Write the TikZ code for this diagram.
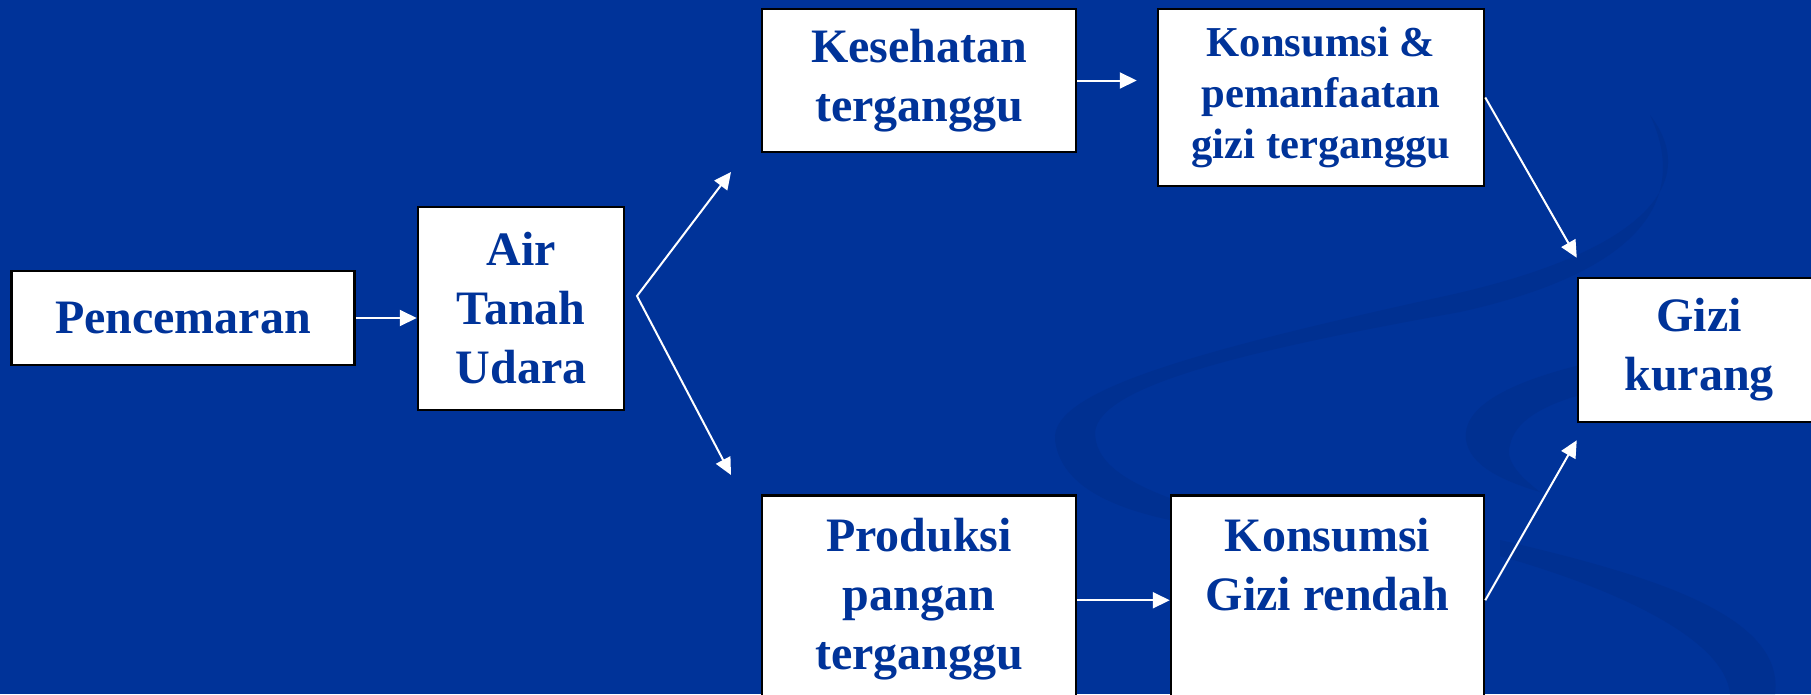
\documentclass[tikz,border=0pt]{standalone}
\usepackage{fontspec}
\setmainfont{Liberation Serif}
\usetikzlibrary{arrows.meta}
\definecolor{bgblue}{HTML}{003399}
\definecolor{swirlblue}{HTML}{003091}
\definecolor{txtblue}{HTML}{003399}
\tikzset{
  box/.style={draw=black, line width=2.5pt, fill=white, text=txtblue,
    font=\bfseries\fontsize{48}{59}\selectfont, align=center, inner sep=0pt},
  link/.style={draw=white, line width=2pt, ->},
  swirlband/.style={fill=swirlblue, draw=none},
  >={Triangle[length=17pt,width=16pt]}
}
\begin{document}
\begin{tikzpicture}[x=1pt,y=-1pt]
\path[use as bounding box, fill=bgblue] (0,0) rectangle (1811,694);
\clip (0,0) rectangle (1811,694);

% background swirls
\path[swirlband] (1650,115) .. controls (1700,180) and (1650,250) .. (1450,295)
  .. controls (1200,350) and (1050,390) .. (1055,440)
  .. controls (1060,480) and (1100,505) .. (1170,520)
  -- (1175,500) .. controls (1120,480) and (1095,460) .. (1095,432)
  .. controls (1100,385) and (1250,350) .. (1460,312)
  .. controls (1640,272) and (1690,200) .. (1650,115) -- cycle;
\path[swirlband] (1580,365) .. controls (1500,385) and (1462,410) .. (1466,440)
  .. controls (1470,465) and (1500,480) .. (1540,492)
  .. controls (1518,475) and (1505,460) .. (1510,445)
  .. controls (1515,420) and (1545,405) .. (1580,395) -- cycle;
\path[swirlband] (1500,540) .. controls (1650,575) and (1785,615) .. (1775,694)
  -- (1730,694) .. controls (1725,640) and (1620,590) .. (1500,556) -- cycle;

% boxes
\node[box, minimum width=343, minimum height=94] (pen) at (183,318) {Pencemaran};
\node[box, minimum width=206, minimum height=203] (air) at (521,308.5) {Air\\Tanah\\Udara};
\node[box, minimum width=314, minimum height=143] (kes) at (919,80.5) {Kesehatan\\terganggu};
\node[box, font=\bfseries\fontsize{42.6}{51}\selectfont, minimum width=326, minimum height=177] (kons) at (1321,97.5) {Konsumsi \&\\pemanfaatan\\gizi terganggu};
\node[box, minimum width=242, minimum height=144] (gizi) at (1699,350) {Gizi\\kurang};
\node[box, anchor=north, minimum width=314] (prod) at (919,494)
  {\parbox[c][210pt][t]{300pt}{\centering\vspace{23pt}Produksi\\pangan\\terganggu}};
\node[box, anchor=north, minimum width=313] (kgr) at (1327.5,494)
  {\parbox[c][210pt][t]{300pt}{\centering\vspace{23pt}Konsumsi\\Gizi rendah}};

% connectors
\coordinate (fork) at (637,296);
\coordinate (uptip) at (731,172);
\coordinate (dntip) at (731,475);
\draw[link] (pen.east) -- (pen.east -| air.west);
\draw[link, <->] (uptip) -- (fork) -- (dntip);
\draw[link, shorten >=20pt] (kes.east) -- (kes.east -| kons.west);
\draw[link] (kons.east) -- ([yshift=19pt]gizi.north west);
\draw[link] (prod.east) -- (kgr.west);
\draw[link] (kgr.east) -- ([yshift=-17pt]gizi.south west);
\end{tikzpicture}
\end{document}
